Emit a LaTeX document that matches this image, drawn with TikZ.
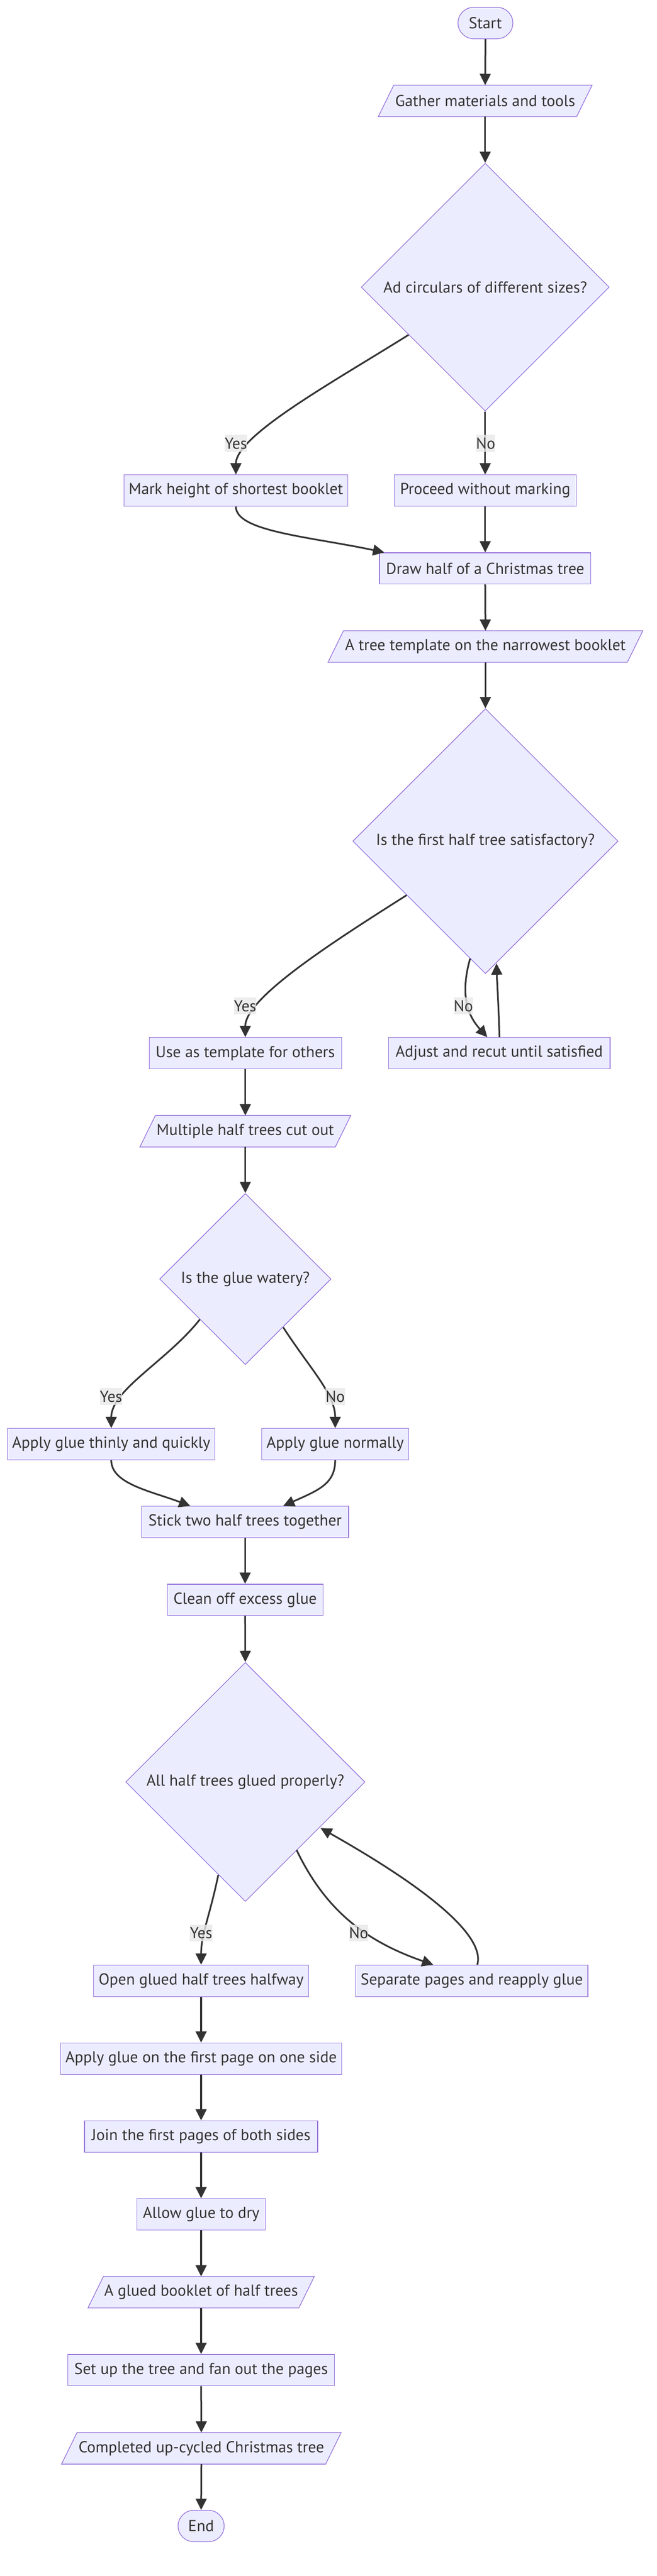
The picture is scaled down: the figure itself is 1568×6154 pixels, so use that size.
\documentclass[tikz,border=0pt]{standalone}
\usepackage{fontspec}
\setmainfont{PT Sans}
\usetikzlibrary{shapes.geometric,arrows.meta,calc}
\definecolor{nodefill}{HTML}{ECECFF}
\definecolor{nodeline}{HTML}{9370DB}
\definecolor{edgecol}{HTML}{333333}
\definecolor{lblfill}{HTML}{E8E8E8}
\pgfdeclarelayer{bg}
\pgfsetlayers{bg,main}
\newcommand\myio[5]{%
  \node[iotext, minimum width=#4] (#1) at (#2,#3) {#5};
  \begin{pgfonlayer}{bg}
  \draw[draw=nodeline, fill=nodefill, line width=1.6pt]
    ($(#1.north west)+(18.5,0)$) -- ($(#1.north east)+(18.5,0)$) --
    ($(#1.south east)+(-18.5,0)$) -- ($(#1.south west)+(-18.5,0)$) -- cycle;
  \end{pgfonlayer}}
\begin{document}
\begin{tikzpicture}[x=1pt,y=-1pt,
  every node/.style={font=\fontsize{38}{44}\selectfont, text=edgecol},
  box/.style={rectangle, draw=nodeline, fill=nodefill, line width=1.6pt, minimum height=75pt, inner sep=0pt},
  term/.style={box, rounded corners=37.5pt},
  dec/.style={diamond, aspect=1, draw=nodeline, fill=nodefill, line width=1.6pt, inner sep=0pt},
  iotext/.style={rectangle, minimum height=75pt, inner sep=0pt},
  lbl/.style={fill=lblfill, fill opacity=0.8, text opacity=1, inner sep=0pt, minimum height=40pt},
  arr/.style={draw=edgecol, line width=4pt, -{Triangle[length=27pt,width=26pt]}},
]
\useasboundingbox (0,0) rectangle (1568,6154);

% nodes
\node[term, minimum width=131pt] (start) at (1158.5,55) {Start};
\myio{gather}{1158}{241}{473pt}{Gather materials and tools}
\node[dec, minimum width=592pt, minimum height=592pt] (d1) at (1158,686) {Ad circulars of different sizes?};
\node[box, minimum width=534pt] (mark) at (563,1172) {Mark height of shortest booklet};
\node[box, minimum width=434pt] (proceed) at (1158,1172) {Proceed without marking};
\node[box, minimum width=504pt] (half) at (1158,1358) {Draw half of a Christmas tree};
\myio{template}{1158.5}{1544.5}{714pt}{A tree template on the narrowest booklet}
\node[dec, minimum width=633pt, minimum height=633pt] (d2) at (1158.5,2009.5) {Is the first half tree satisfactory?};
\node[box, minimum width=459pt] (use) at (585.5,2516) {Use as template for others};
\node[box, minimum width=529pt] (adjust) at (1191.5,2516) {Adjust and recut until satisfied};
\myio{multiple}{585.5}{2702.5}{466pt}{Multiple half trees cut out}
\node[dec, minimum width=409pt, minimum height=409pt] (d3) at (585.5,3055.5) {Is the glue watery?};
\node[box, minimum width=495pt] (thinly) at (265.5,3450) {Apply glue thinly and quickly};
\node[box, minimum width=350pt] (normally) at (800,3450) {Apply glue normally};
\node[box, minimum width=494pt] (stick) at (585,3636) {Stick two half trees together};
\node[box, minimum width=372pt] (clean) at (585,3822) {Clean off excess glue};
\node[dec, minimum width=571pt, minimum height=571pt] (d4) at (585.5,4257) {All half trees glued properly?};
\node[box, minimum width=514pt] (open) at (480,4732) {Open glued half trees halfway};
\node[box, minimum width=554pt] (separate) at (1126,4732) {Separate pages and reapply glue};
\node[box, minimum width=670pt] (applyfirst) at (480,4918) {Apply glue on the first page on one side};
\node[box, minimum width=556pt] (join) at (480,5104) {Join the first pages of both sides};
\node[box, minimum width=306pt] (allow) at (480,5290) {Allow glue to dry};
\myio{glued}{480}{5476}{503pt}{A glued booklet of half trees}
\node[box, minimum width=636pt] (setup) at (480,5662) {Set up the tree and fan out the pages};
\myio{completed}{480.5}{5849}{630pt}{Completed up-cycled Christmas tree}
\node[term, minimum width=110pt] (end) at (480,6034.5) {End};

% edges
\draw[arr] (start.south) -- (gather.north);
\draw[arr] (gather.south) -- (d1.north);
\draw[arr] ($(d1.center)+(-183,114)$) .. controls (800,910) and (563,1040) .. (mark.north);
\draw[arr] (d1.south) -- (proceed.north);
\draw[arr] (mark.south) .. controls (563,1270) and (740,1282) .. ($(half.north west)+(12,0)$);
\draw[arr] (proceed.south) -- (half.north);
\draw[arr] (half.south) -- (template.north);
\draw[arr] (template.south) -- (d2.north);
\draw[arr] ($(d2.center)+(-188,129)$) .. controls (795,2250) and (585,2384) .. (use.north);
\draw[arr] ($(d2.center)+(-36.5,280.5)$) .. controls (1098,2375) and (1115,2425) .. ($(adjust.north)+(-28.5,0)$);
\draw[arr] ($(adjust.north)+(0.5,0)$) .. controls (1190,2400) and (1186,2340) .. ($(d2.center)+(26.5,292)$);
\draw[arr] (use.south) -- (multiple.north);
\draw[arr] (multiple.south) -- (d3.north);
\draw[arr] ($(d3.center)+(-108.5,96.5)$) .. controls (400,3250) and (265.5,3320) .. (thinly.north);
\draw[arr] ($(d3.center)+(90.5,115.5)$) .. controls (740,3270) and (800,3330) .. (normally.north);
\draw[arr] (thinly.south) .. controls (265.5,3545) and (360,3562) .. ($(stick.north west)+(117,0)$);
\draw[arr] (normally.south) .. controls (800,3545) and (760,3560) .. ($(stick.north east)+(-157,0)$);
\draw[arr] (stick.south) -- (clean.north);
\draw[arr] (clean.south) -- (d4.north);
\draw[arr] ($(d4.center)+(-64.5,222)$) .. controls (500,4580) and (480,4620) .. (open.north);
\draw[arr] ($(d4.center)+(122.5,163)$) .. controls (780,4570) and (880,4640) .. ($(separate.north west)+(186,0)$);
\draw[arr] ($(separate.north west)+(291,0)$) .. controls (1160,4620) and (1000,4500) .. ($(d4.center)+(179.5,110)$);
\draw[arr] (open.south) -- (applyfirst.north);
\draw[arr] (applyfirst.south) -- (join.north);
\draw[arr] (join.south) -- (allow.north);
\draw[arr] (allow.south) -- (glued.north);
\draw[arr] (glued.south) -- (setup.north);
\draw[arr] (setup.south) -- (completed.north);
\draw[arr] (completed.south) -- (end.north);

% edge labels
\node[lbl] (l1) at (563,1059) {Yes};
\node[lbl] (l2) at (1159,1059) {No};
\node[lbl] (l3) at (585,2403) {Yes};
\node[lbl] (l4) at (1106,2403) {No};
\node[lbl] (l5) at (265,3336) {Yes};
\node[lbl] (l6) at (800,3336) {No};
\node[lbl] (l7) at (480,4618) {Yes};
\node[lbl] (l8) at (856,4618) {No};
\end{tikzpicture}
\end{document}
